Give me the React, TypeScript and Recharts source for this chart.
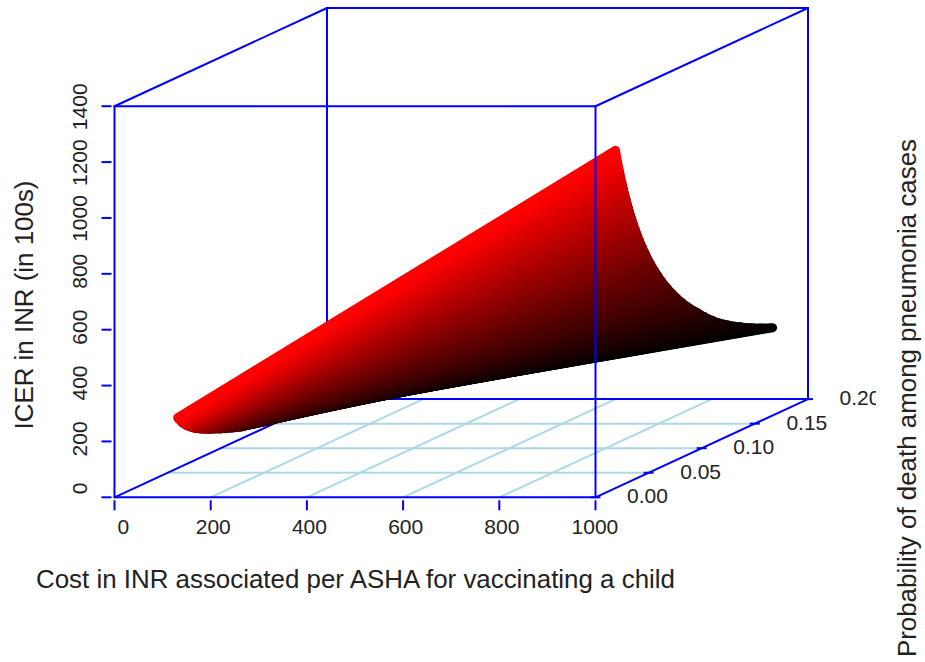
import { ComposedChart, Line, Scatter, XAxis, YAxis } from "recharts";

const costTicks = [0, 200, 400, 600, 800, 1000];
const icerTicks = [0, 200, 400, 600, 800, 1000, 1200, 1400];
const probTicks = [0.0, 0.05, 0.1, 0.15, 0.2];

const lowCost = 90;
const highCost = 1000;

const probabilities = [
  0.0188, 0.0193, 0.0198, 0.0203, 0.0209, 0.0215, 0.0221, 0.0227,
  0.0234, 0.0241, 0.0248, 0.0256, 0.0264, 0.0273, 0.0282, 0.0291,
  0.0301, 0.0311, 0.0321, 0.0331, 0.0341, 0.0351, 0.0362, 0.0375,
  0.0388, 0.0401, 0.0415, 0.0429, 0.0444, 0.0459, 0.0474, 0.049,
  0.0506, 0.0522, 0.0538, 0.0555, 0.0572, 0.0589, 0.0606, 0.0625,
  0.0645, 0.0665, 0.0685, 0.0705, 0.0725, 0.0745, 0.0765, 0.079,
  0.0815, 0.084, 0.0865, 0.089, 0.0915, 0.0938, 0.0962, 0.099,
  0.102, 0.1048, 0.1075, 0.1102, 0.113, 0.1159, 0.1188, 0.1216,
  0.1245, 0.1275, 0.1305, 0.1335, 0.1365, 0.1394, 0.1423, 0.1454,
  0.1485, 0.1515, 0.1545, 0.1575, 0.1605, 0.1636, 0.1667,
];
const icerAtLowCost = [
  252, 248, 245, 242, 239, 235, 232, 228,
  225, 222, 219, 215, 212, 209, 206, 203,
  200, 197, 194, 191, 188, 185, 183, 180,
  177, 174, 171, 168, 166, 163, 160, 157,
  155, 152, 150, 147, 144, 141, 139, 136,
  133, 130, 127, 124, 122, 119, 116, 113,
  111, 109, 107, 104, 102, 100, 98, 95,
  93, 90, 88, 86, 84, 81, 79, 77,
  75, 73, 71, 69, 67, 65, 63, 60,
  58, 56, 54, 51, 49, 47, 45,
];
const icerAtHighCost = [
  1209, 1198, 1187, 1176, 1163, 1151, 1139, 1127,
  1113, 1099, 1086, 1072, 1058, 1042, 1027, 1013,
  997, 982, 967, 952, 939, 925, 911, 894,
  878, 863, 847, 831, 816, 800, 786, 770,
  756, 742, 728, 715, 701, 689, 676, 663,
  649, 637, 624, 612, 601, 590, 579, 566,
  554, 542, 531, 520, 510, 501, 492, 480,
  469, 458, 448, 440, 430, 422, 413, 406,
  399, 391, 384, 377, 371, 364, 358, 352,
  346, 340, 335, 329, 324, 319, 314,
];

const MAX_COST = 1000;
const MAX_ICER = 1400;
const MAX_PROB = 0.2;
// how far the depth axis shifts a point, in x and y units
const DEPTH_X = 441.8;
const DEPTH_Y = 351.6;

const BLUE = "#0000FF";
const GRID = "#ADD8E6";
const FONT = "'Liberation Sans', Arial, sans-serif";
const TICK_SIZE = 21;
const TITLE_SIZE = 25.9;

function project(cost: number, prob: number, icer: number) {
  return {
    x: cost + (prob / MAX_PROB) * DEPTH_X,
    y: icer + (prob / MAX_PROB) * DEPTH_Y,
  };
}

function edge(a: number[], b: number[]) {
  return [project(a[0], a[1], a[2]), project(b[0], b[1], b[2])];
}

const backEdges = [
  edge([0, 0, 0], [0, MAX_PROB, 0]),
  edge([0, MAX_PROB, 0], [0, MAX_PROB, MAX_ICER]),
  edge([0, MAX_PROB, 0], [MAX_COST, MAX_PROB, 0]),
];
const frontEdges = [
  edge([0, 0, 0], [MAX_COST, 0, 0]),
  edge([0, 0, 0], [0, 0, MAX_ICER]),
  edge([MAX_COST, 0, 0], [MAX_COST, 0, MAX_ICER]),
  edge([0, 0, MAX_ICER], [MAX_COST, 0, MAX_ICER]),
  edge([MAX_COST, 0, 0], [MAX_COST, MAX_PROB, 0]),
  edge([MAX_COST, MAX_PROB, 0], [MAX_COST, MAX_PROB, MAX_ICER]),
  edge([0, 0, MAX_ICER], [0, MAX_PROB, MAX_ICER]),
  edge([MAX_COST, 0, MAX_ICER], [MAX_COST, MAX_PROB, MAX_ICER]),
  edge([0, MAX_PROB, MAX_ICER], [MAX_COST, MAX_PROB, MAX_ICER]),
];
const floorGrid = [
  ...costTicks.slice(1, -1).map((c) => edge([c, 0, 0], [c, MAX_PROB, 0])),
  ...probTicks.slice(1, -1).map((p) => edge([0, p, 0], [MAX_COST, p, 0])),
];

const depthTicks = probTicks.map((p) => ({ ...project(MAX_COST, p, 0), label: p.toFixed(2) }));

const sheetRows = probabilities
  .map((p, i) => ({
    color: shade(icerAtHighCost[i]),
    points: [project(lowCost, p, icerAtLowCost[i]), project(highCost, p, icerAtHighCost[i])],
  }))
  .reverse();

function shade(icer: number) {
  const top = icerAtHighCost[0];
  const bottom = icerAtHighCost[icerAtHighCost.length - 1];
  const t = (icer - bottom) / (top - bottom);
  return `rgb(${Math.round(255 * Math.pow(t, 1.15))},0,0)`;
}

// labels on the box edges sit off-centre, a bit further out the longer they are
function labelShift(value: number) {
  return 12 + 2.7 * String(value).length;
}

function CostTick({ x, y, payload }: any) {
  return (
    <g>
      <line x1={x} x2={x} y1={y - 5} y2={y + 5} stroke={BLUE} strokeWidth={2} />
      <text
        x={x + labelShift(payload.value)}
        y={y + 29}
        textAnchor="end"
        fontSize={TICK_SIZE}
        fontFamily={FONT}
        fill="#222"
      >
        {payload.value}
      </text>
    </g>
  );
}

function IcerTick({ x, y, payload }: any) {
  const tx = x - 19.5;
  const ty = y - labelShift(payload.value);
  return (
    <g>
      <line x1={x - 5} x2={x + 5} y1={y} y2={y} stroke={BLUE} strokeWidth={2} />
      <text
        x={tx}
        y={ty}
        textAnchor="end"
        fontSize={TICK_SIZE}
        fontFamily={FONT}
        fill="#222"
        transform={`rotate(-90 ${tx} ${ty})`}
      >
        {payload.value}
      </text>
    </g>
  );
}

function DepthTick({ cx, cy, payload }: any) {
  return (
    <g>
      <line x1={cx - 5} x2={cx + 5} y1={cy} y2={cy} stroke={BLUE} strokeWidth={2} />
      <text x={cx + 52} y={cy + 6} textAnchor="middle" fontSize={TICK_SIZE} fontFamily={FONT} fill="#222">
        {payload.label}
      </text>
      {payload.label === "0.20" && <rect x={cx + 68} y={cy - 14} width={18} height={28} fill="#fff" />}
    </g>
  );
}

function segment(points: { x: number; y: number }[], key: string, stroke: string, width: number) {
  return (
    <Line
      key={key}
      data={points}
      dataKey="y"
      type="linear"
      stroke={stroke}
      strokeWidth={width}
      strokeLinecap="round"
      dot={false}
      activeDot={false}
      legendType="none"
      isAnimationActive={false}
    />
  );
}

export default function App() {
  return (
    <div style={{ position: "absolute", left: 0, top: 0, width: 925, height: 662, background: "#fff" }}>
      <ComposedChart
        width={925}
        height={662}
        margin={{ top: 8, right: 117, bottom: 124.7, left: 54.5 }}
      >
        <XAxis
          type="number"
          dataKey="x"
          domain={[0, MAX_COST + DEPTH_X]}
          ticks={costTicks}
          tick={<CostTick />}
          axisLine={false}
          tickLine={false}
          height={40}
          interval={0}
        />
        <YAxis
          type="number"
          dataKey="y"
          domain={[0, MAX_ICER + DEPTH_Y]}
          ticks={icerTicks}
          tick={<IcerTick />}
          axisLine={false}
          tickLine={false}
          width={60}
          interval={0}
        />
        {floorGrid.map((g, i) => segment(g, `grid-${i}`, GRID, 2))}
        {backEdges.map((g, i) => segment(g, `back-${i}`, BLUE, 2))}
        {sheetRows.map((r, i) => segment(r.points, `row-${i}`, r.color, 9))}
        {frontEdges.map((g, i) => segment(g, `front-${i}`, BLUE, 2))}
        <Scatter data={depthTicks} dataKey="y" shape={<DepthTick />} isAnimationActive={false} />
        <text x={36} y={588} fontSize={TITLE_SIZE} fontFamily={FONT} fill="#222">
          Cost in INR associated per ASHA for vaccinating a child
        </text>
        <text
          x={0}
          y={0}
          textAnchor="middle"
          fontSize={TITLE_SIZE}
          fontFamily={FONT}
          fill="#222"
          transform="translate(33 305) rotate(-90)"
        >
          ICER in INR (in 100s)
        </text>
        <text
          x={0}
          y={0}
          textAnchor="middle"
          fontSize={TITLE_SIZE}
          fontFamily={FONT}
          fill="#222"
          transform="translate(916 398) rotate(-90)"
        >
          Probability of death among pneumonia cases
        </text>
      </ComposedChart>
    </div>
  );
}
